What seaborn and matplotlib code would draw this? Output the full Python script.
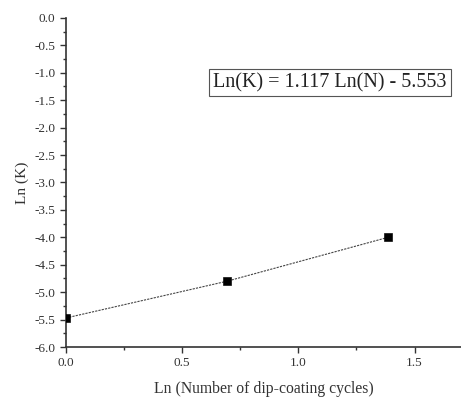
import matplotlib
matplotlib.use("Agg")
import matplotlib.pyplot as plt
from matplotlib.ticker import MultipleLocator
import seaborn as sns
import pandas as pd

ln_n = [0.0, 0.693, 1.386]
ln_k = [-5.47, -4.80, -4.00]
equation = "Ln(K) = 1.117 Ln(N) - 5.553"

sns.set_theme(style="ticks")
plt.rcParams['font.family'] = ['Liberation Serif', 'DejaVu Serif']
plt.rcParams['axes.unicode_minus'] = False

df = pd.DataFrame({"x": ln_n, "y": ln_k})

fig = plt.figure(figsize=(4.61, 3.98), dpi=100)
ax = fig.add_axes([0.143, 0.128, 0.857, 0.827])

sns.lineplot(data=df, x="x", y="y", ax=ax, color="#444444", linewidth=0.8,
             linestyle=(0, (2, 1)), marker=None)
sns.scatterplot(data=df, x="x", y="y", ax=ax, marker="s", s=30, color="black",
                edgecolor="black", zorder=5)

ax.set_xlim(0, 1.70)
ax.set_ylim(-6.0, 0.0)
ax.xaxis.set_major_locator(MultipleLocator(0.5))
ax.xaxis.set_minor_locator(MultipleLocator(0.25))
ax.yaxis.set_major_locator(MultipleLocator(0.5))
ax.yaxis.set_minor_locator(MultipleLocator(0.25))
ax.tick_params(axis="both", which="major", direction="out", length=4, width=1,
               labelsize=9.5, color="#333333", labelcolor="#333333")
ax.tick_params(axis="both", which="minor", direction="out", length=2, width=1,
               color="#333333")
for s in ["top", "right"]:
    ax.spines[s].set_visible(False)
for s in ["left", "bottom"]:
    ax.spines[s].set_linewidth(1.2)
    ax.spines[s].set_color("#333333")

ax.set_xlabel("Ln (Number of dip-coating cycles)", fontsize=11.3, color="#333333", labelpad=8)
ax.set_ylabel("Ln (K)", fontsize=11, color="#333333", labelpad=4)

ax.text(0.668, 0.804, equation, transform=ax.transAxes, fontsize=14.5, color="#222222",
        ha="center", va="center",
        bbox=dict(boxstyle="square,pad=0.2", facecolor="white", edgecolor="#555555", linewidth=0.8))

fig.savefig("out.png", dpi=100)
